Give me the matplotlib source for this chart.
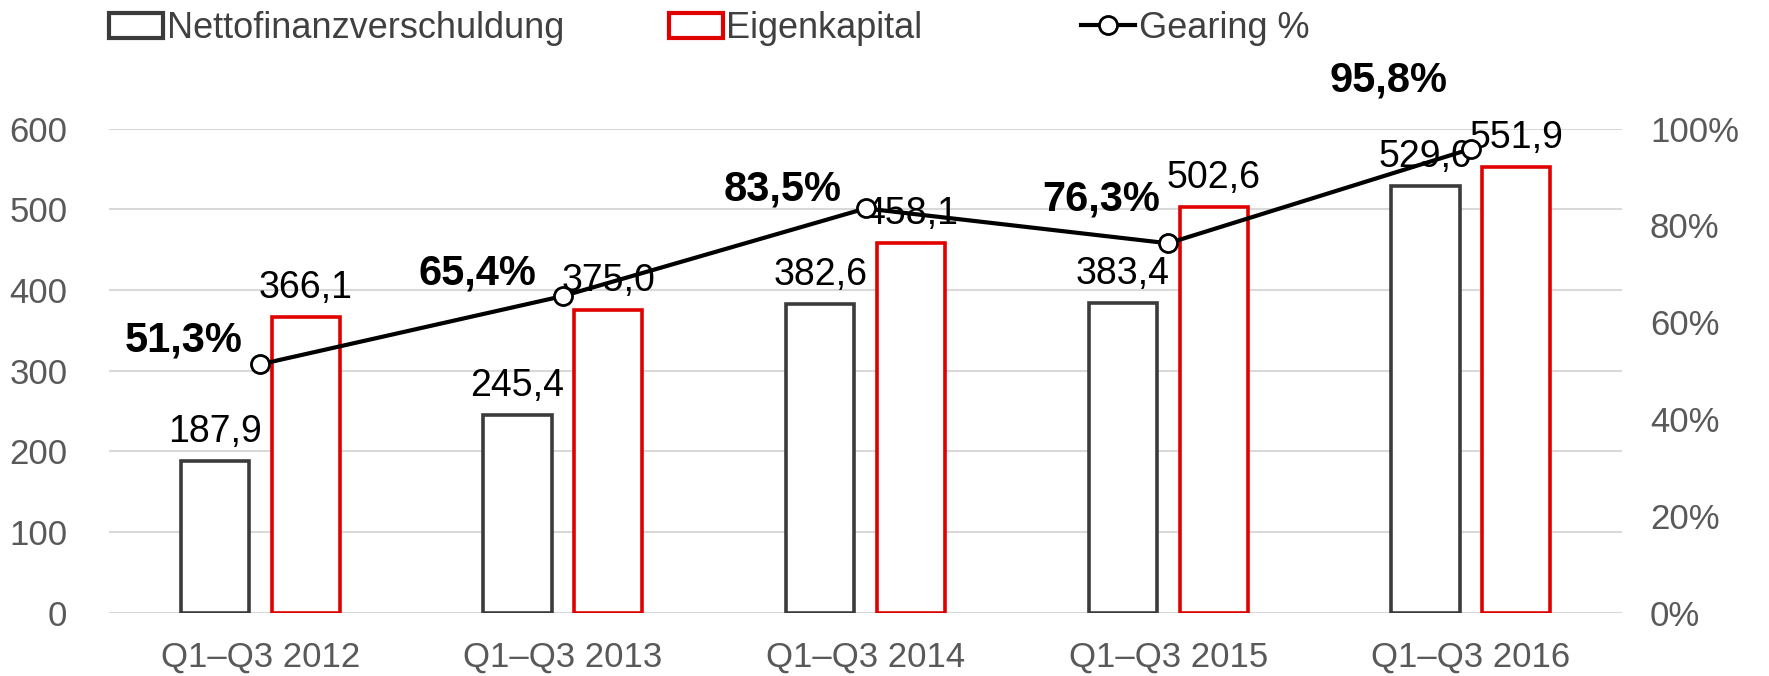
import matplotlib
matplotlib.use("Agg")
import matplotlib.pyplot as plt
from matplotlib.lines import Line2D
from matplotlib.patches import Patch
import numpy as np

categories = ["Q1–Q3 2012", "Q1–Q3 2013", "Q1–Q3 2014", "Q1–Q3 2015", "Q1–Q3 2016"]
netto = [187.9, 245.4, 382.6, 383.4, 529.0]
eigen = [366.1, 375.0, 458.1, 502.6, 551.9]
gearing = [51.3, 65.4, 83.5, 76.3, 95.8]
series_names = ["Nettofinanzverschuldung", "Eigenkapital", "Gearing %"]

# label offsets for gearing text (points)
gear_offsets = [(-13, 3), (-19, 2), (-17, -1), (-6, 17), (-17, 35)]

plt.rcParams["font.family"] = ["Liberation Sans", "DejaVu Sans"]

DARK = "#3b3b3b"
RED = "#e00000"
GREY = "#595959"

fig = plt.figure(figsize=(17.69, 6.76), dpi=100)
ax = fig.add_axes([0.0616, 0.0938, 0.8554, 0.716])
ax2 = ax.twinx()

x = np.arange(len(categories))
w = 0.225
off = 0.15
ax.bar(x - off, netto, w, facecolor="white", edgecolor=DARK, linewidth=2.6, zorder=3)
ax.bar(x + off, eigen, w, facecolor="white", edgecolor=RED, linewidth=2.6, zorder=3)

for xi, v in zip(x, netto):
    ax.annotate(f"{v:.1f}".replace(".", ","), (xi - off, v), xytext=(0, 8),
                textcoords="offset points", ha="center", va="bottom", fontsize=27, color="black", zorder=5)
for xi, v in zip(x, eigen):
    ax.annotate(f"{v:.1f}".replace(".", ","), (xi + off, v), xytext=(0, 8),
                textcoords="offset points", ha="center", va="bottom", fontsize=27, color="black", zorder=5)

ax.set_xlim(-0.5, len(categories) - 0.5)
ax.set_ylim(0, 600)
ax.set_yticks(range(0, 601, 100))
ax.set_xticks(x)
ax.set_xticklabels(categories)
ax.grid(axis="y", color="#d9d9d9", linewidth=1.5, zorder=0)
ax.set_axisbelow(True)
for s in ax.spines.values():
    s.set_visible(False)
ax.tick_params(axis="both", length=0, labelsize=25, labelcolor=GREY)
ax.tick_params(axis="x", pad=20)
ax.tick_params(axis="y", pad=30)

ax2.plot(x, gearing, color="black", linewidth=3, marker="o", markersize=13,
         markerfacecolor="white", markeredgecolor="black", markeredgewidth=2, zorder=4)
for xi, g, (dx, dy) in zip(x, gearing, gear_offsets):
    ax2.annotate(f"{g:.1f}%".replace(".", ","), (xi, g), xytext=(dx, dy),
                 textcoords="offset points", ha="right", va="bottom",
                 fontsize=30, fontweight="bold", color="black")
ax2.set_ylim(0, 100)
ax2.set_yticks(range(0, 101, 20))
ax2.set_yticklabels([f"{t}%" for t in range(0, 101, 20)])
for s in ax2.spines.values():
    s.set_visible(False)
ax2.tick_params(axis="y", length=0, labelsize=25, labelcolor=GREY, pad=20)

handles = [
    Patch(facecolor="white", edgecolor=DARK, linewidth=3),
    Patch(facecolor="white", edgecolor=RED, linewidth=3),
    Line2D([0], [0], color="black", linewidth=3, marker="o", markersize=13,
           markerfacecolor="white", markeredgecolor="black", markeredgewidth=2),
]
legend_x = [0.0616, 0.378, 0.611]
for h, name, lx in zip(handles, series_names, legend_x):
    fig.legend([h], [name], loc="center left", bbox_to_anchor=(lx, 0.958),
               frameon=False, fontsize=26, labelcolor="#404040", handlelength=1.5,
               handleheight=0.7, handletextpad=0.1, borderpad=0, borderaxespad=0)

fig.savefig("out.png", dpi=100)
